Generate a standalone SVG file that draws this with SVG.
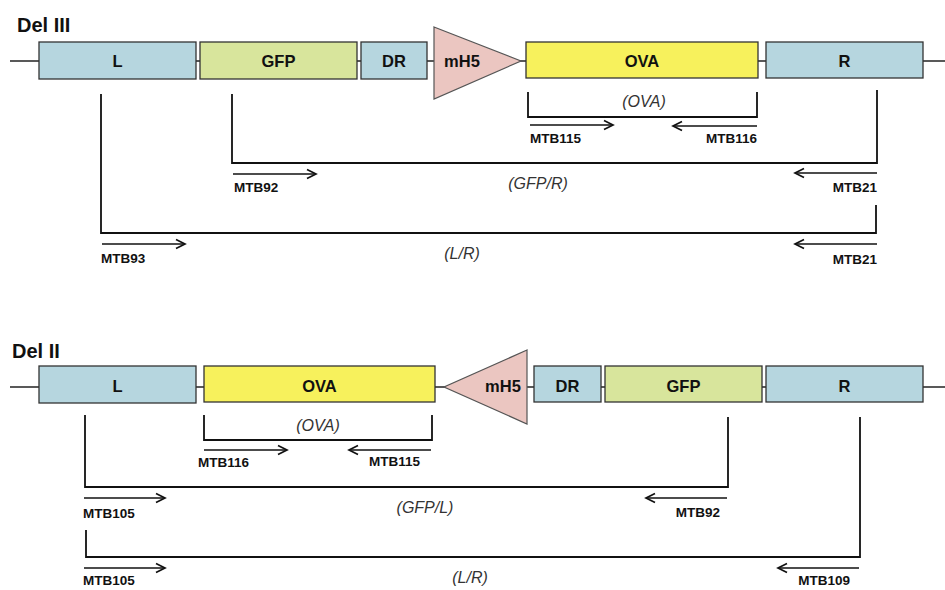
<svg xmlns="http://www.w3.org/2000/svg" width="945" height="590" viewBox="0 0 945 590">
<style>
.box{stroke:#333;stroke-width:1.3}
.blue{fill:#b6d6df}
.green{fill:#d8e59c}
.yellow{fill:#f7f15c}
.pink{fill:#ebc6c1;stroke:#555;stroke-width:1.2}
.bb{stroke:#222;stroke-width:1.5;fill:none}
.lbl{font-family:"Liberation Sans",Arial,sans-serif;font-weight:bold;font-size:16.5px;fill:#111;text-anchor:middle}
.title{font-family:"Liberation Sans",Arial,sans-serif;font-weight:bold;font-size:20px;fill:#111}
.br{stroke:#111;stroke-width:1.8;fill:none}
.pr{stroke:#111;stroke-width:1.6;fill:none}
.pl{font-family:"Liberation Sans",Arial,sans-serif;font-weight:bold;font-size:13.5px;fill:#111}
.it{font-family:"Liberation Sans",Arial,sans-serif;font-style:italic;font-size:16px;fill:#333;text-anchor:middle}
</style>
<defs>
<marker id="ah" markerUnits="userSpaceOnUse" markerWidth="14" markerHeight="12" refX="10" refY="6" orient="auto">
<path d="M1,1.5 L10,6 L1,10.5" fill="none" stroke="#111" stroke-width="1.7"/>
</marker>
</defs>
<rect width="945" height="590" fill="#fff"/>

<g id="del3-title"><text class="title" x="17" y="32">Del III</text></g>
<g id="del3-backbone">
<line class="bb" x1="10" y1="61" x2="945" y2="61"/>
</g>
<g id="del3-L"><rect class="box blue" x="39" y="42" width="157" height="37"/><text class="lbl" x="117.5" y="67">L</text></g>
<g id="del3-GFP"><rect class="box green" x="200" y="42" width="157" height="37"/><text class="lbl" x="278.5" y="67">GFP</text></g>
<g id="del3-DR"><rect class="box blue" x="361" y="42" width="66" height="37"/><text class="lbl" x="394" y="67">DR</text></g>
<g id="del3-mH5"><polygon class="pink" points="434,27 521,61 434,99"/><text class="lbl" x="462" y="67">mH5</text></g>
<g id="del3-OVA"><rect class="box yellow" x="526" y="42" width="232" height="36"/><text class="lbl" x="642" y="67">OVA</text></g>
<g id="del3-R"><rect class="box blue" x="766" y="42" width="157" height="36"/><text class="lbl" x="844.5" y="67">R</text></g>

<g id="del2-title"><text class="title" x="12" y="358">Del II</text></g>
<g id="del2-backbone">
<line class="bb" x1="10" y1="387" x2="945" y2="387"/>
</g>
<g id="del2-L"><rect class="box blue" x="39" y="366" width="157" height="37"/><text class="lbl" x="117.5" y="392">L</text></g>
<g id="del2-OVA"><rect class="box yellow" x="204" y="366" width="231" height="36"/><text class="lbl" x="319.5" y="392">OVA</text></g>
<g id="del2-mH5"><polygon class="pink" points="527,350 444,387 527,424"/><text class="lbl" x="503" y="392">mH5</text></g>
<g id="del2-DR"><rect class="box blue" x="534" y="366" width="67" height="36"/><text class="lbl" x="567.5" y="392">DR</text></g>
<g id="del2-GFP"><rect class="box green" x="605" y="366" width="157" height="36"/><text class="lbl" x="683.5" y="392">GFP</text></g>
<g id="del2-R"><rect class="box blue" x="766" y="366" width="157" height="36"/><text class="lbl" x="844.5" y="392">R</text></g>

<g id="connectors">
<!-- Del III OVA -->
<polyline class="br" points="528,92 528,117 757,117 757,92"/>
<text class="it" x="644" y="107">(OVA)</text>
<line class="pr" x1="530" y1="125" x2="613" y2="125" marker-end="url(#ah)"/>
<text class="pl" x="530" y="143">MTB115</text>
<line class="pr" x1="757" y1="126" x2="673" y2="126" marker-end="url(#ah)"/>
<text class="pl" x="757" y="143" text-anchor="end">MTB116</text>
<!-- Del III GFP/R -->
<polyline class="br" points="232,94 232,163 877,163 877,90"/>
<text class="it" x="538" y="189">(GFP/R)</text>
<line class="pr" x1="233" y1="174" x2="316" y2="174" marker-end="url(#ah)"/>
<text class="pl" x="234" y="192">MTB92</text>
<line class="pr" x1="877" y1="173" x2="795" y2="173" marker-end="url(#ah)"/>
<text class="pl" x="877" y="192" text-anchor="end">MTB21</text>
<!-- Del III L/R -->
<polyline class="br" points="101,94 101,233 876,233 876,205"/>
<text class="it" x="462" y="259">(L/R)</text>
<line class="pr" x1="102" y1="244" x2="185" y2="244" marker-end="url(#ah)"/>
<text class="pl" x="101" y="263">MTB93</text>
<line class="pr" x1="877" y1="244" x2="795" y2="244" marker-end="url(#ah)"/>
<text class="pl" x="877" y="264" text-anchor="end">MTB21</text>

<!-- Del II OVA -->
<polyline class="br" points="204,415 204,440 432,440 432,415"/>
<text class="it" x="318" y="431">(OVA)</text>
<line class="pr" x1="204" y1="450" x2="287" y2="450" marker-end="url(#ah)"/>
<text class="pl" x="198" y="467">MTB116</text>
<line class="pr" x1="431" y1="450" x2="349" y2="450" marker-end="url(#ah)"/>
<text class="pl" x="420" y="466" text-anchor="end">MTB115</text>
<!-- Del II GFP/L -->
<polyline class="br" points="85,415 85,487 728,487 728,417"/>
<text class="it" x="425" y="513">(GFP/L)</text>
<line class="pr" x1="84" y1="498" x2="165" y2="498" marker-end="url(#ah)"/>
<text class="pl" x="83" y="518">MTB105</text>
<line class="pr" x1="727" y1="498" x2="646" y2="498" marker-end="url(#ah)"/>
<text class="pl" x="720" y="517" text-anchor="end">MTB92</text>
<!-- Del II L/R -->
<polyline class="br" points="86,530 86,557 860,557 860,417"/>
<text class="it" x="470" y="583">(L/R)</text>
<line class="pr" x1="84" y1="568" x2="165" y2="568" marker-end="url(#ah)"/>
<text class="pl" x="83" y="585">MTB105</text>
<line class="pr" x1="859" y1="568" x2="778" y2="568" marker-end="url(#ah)"/>
<text class="pl" x="850" y="585" text-anchor="end">MTB109</text>
</g>
</svg>
